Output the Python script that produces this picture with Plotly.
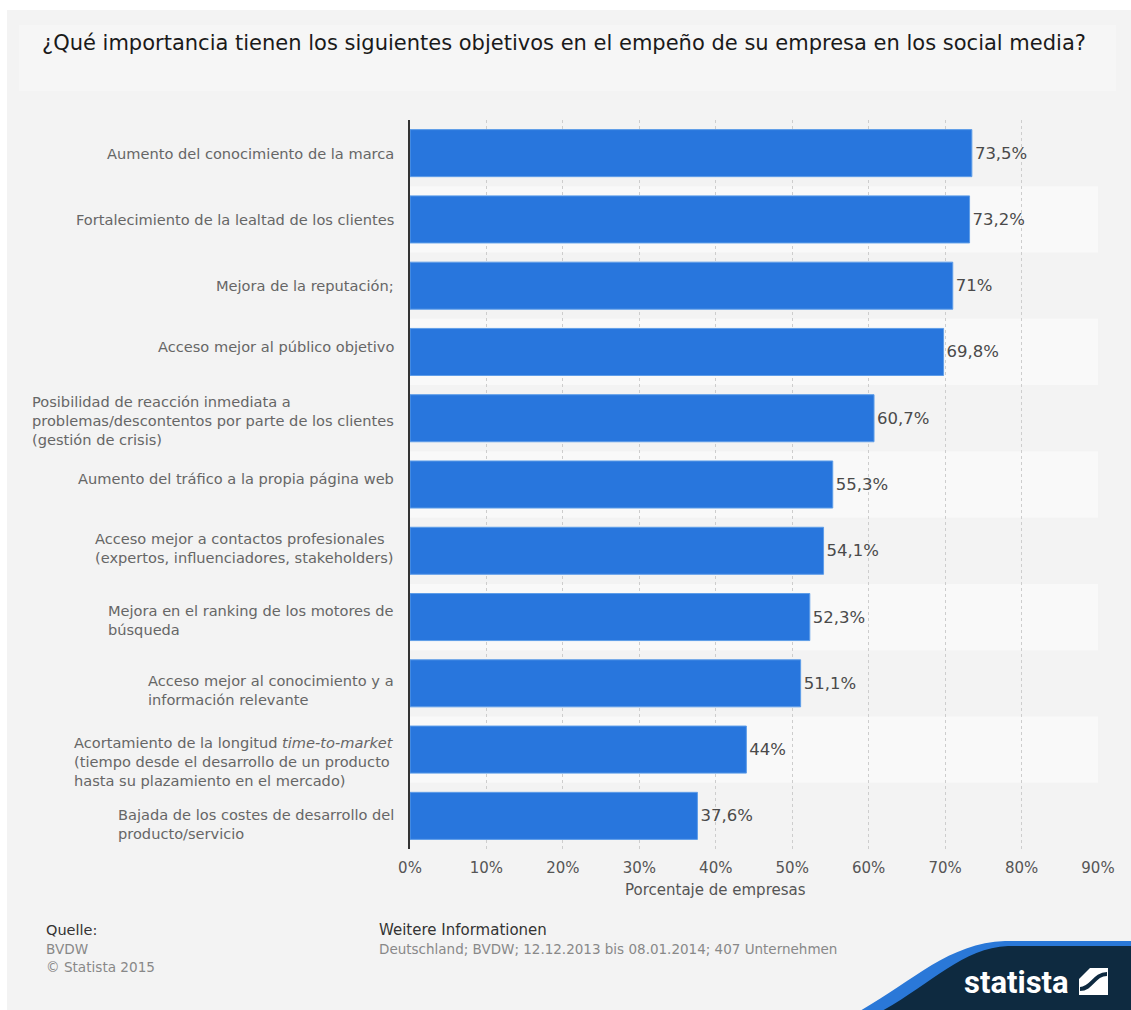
import plotly.graph_objects as go

# Survey answers (share of companies, %)
categories = [
    "Aumento del conocimiento de la marca",
    "Fortalecimiento de la lealtad de los clientes",
    "Mejora de la reputación;",
    "Acceso mejor al público objetivo",
    "Posibilidad de reacción inmediata a<br>problemas/descontentos por parte de los clientes<br>(gestión de crisis)",
    "Aumento del tráfico a la propia página web",
    "Acceso mejor a contactos profesionales<br>(expertos, influenciadores, stakeholders)",
    "Mejora en el ranking de los motores de<br>búsqueda",
    "Acceso mejor al conocimiento y a<br>información relevante",
    "Acortamiento de la longitud <i>time-to-market</i><br>(tiempo desde el desarrollo de un producto<br>hasta su plazamiento en el mercado)",
    "Bajada de los costes de desarrollo del<br>producto/servicio",
]
values = [73.5, 73.2, 71.0, 69.8, 60.7, 55.3, 54.1, 52.3, 51.1, 44.0, 37.6]
x_ticks = [0, 10, 20, 30, 40, 50, 60, 70, 80, 90]

title_text = "¿Qué importancia tienen los siguientes objetivos en el empeño de su empresa en los social media?"
axis_title = "Porcentaje de empresas"
source_head = "Quelle:"
source_lines = ["BVDW", "© Statista 2015"]
info_head = "Weitere Informationen"
info_line = "Deutschland; BVDW; 12.12.2013 bis 08.01.2014; 407 Unternehmen"

# label vertical nudges in pixels (positive = down)
label_nudge = [0, 0, 0, -5, 2, -6, -3, 3, 7, 12, 8]

value_labels = [("%g" % v).replace(".", ",") + "%" for v in values]

FIG_W, FIG_H = 1131, 1010
L, R, T, B = 410, 1098, 120, 849


def fx(px):
    return (px - L) / (R - L)


def fy(py):
    return (B - py) / (B - T)


FONT = "DejaVu Sans"

fig = go.Figure(
    go.Bar(
        x=values,
        y=categories,
        orientation="h",
        marker=dict(color="#2876dd", line=dict(color="#5e9de8", width=1)),
        text=value_labels,
        textposition="outside",
        textfont=dict(family=FONT, size=16.5, color="#4a4a4a"),
        constraintext="none",
        cliponaxis=False,
        hoverinfo="skip",
    )
)

shapes = []
# white frame strips at top and left edge
shapes.append(dict(type="rect", xref="paper", yref="paper", x0=fx(0), x1=fx(FIG_W),
                   y0=fy(10), y1=fy(0), fillcolor="white", line=dict(width=0), layer="below"))
shapes.append(dict(type="rect", xref="paper", yref="paper", x0=fx(0), x1=fx(7),
                   y0=fy(FIG_H), y1=fy(0), fillcolor="white", line=dict(width=0), layer="below"))
# title panel
shapes.append(dict(type="rect", xref="paper", yref="paper", x0=fx(19), x1=fx(1116),
                   y0=fy(91), y1=fy(25), fillcolor="#f6f6f6", line=dict(width=0), layer="below"))
# alternating row bands
for i in range(len(categories)):
    if i % 2 == 1:
        shapes.append(dict(type="rect", xref="paper", yref="y", x0=0, x1=1,
                           y0=i - 0.5, y1=i + 0.5, fillcolor="#f9f9f9",
                           line=dict(width=0), layer="below"))


def path(points_cmds):
    out = []
    for cmd, pts in points_cmds:
        coords = " ".join("%.5f,%.5f" % (fx(px), fy(py)) for px, py in pts)
        out.append(cmd + " " + coords if coords else cmd)
    return " ".join(out)


# logo swoosh
blue = path([("M", [(858, 1012)]), ("C", [(912, 982), (948, 943), (1005, 941)]),
             ("L", [(1133, 941)]), ("L", [(1133, 1012)]), ("Z", [])])
navy = path([("M", [(880, 1012)]), ("C", [(930, 985), (962, 948), (1008, 946)]),
             ("L", [(1133, 946)]), ("L", [(1133, 1012)]), ("Z", [])])
shapes.append(dict(type="path", xref="paper", yref="paper", path=blue,
                   fillcolor="#2a78d8", line=dict(width=0), layer="above"))
shapes.append(dict(type="path", xref="paper", yref="paper", path=navy,
                   fillcolor="#0e2a40", line=dict(width=0), layer="above"))
# logo icon
shapes.append(dict(type="rect", xref="paper", yref="paper", x0=fx(1079), x1=fx(1108),
                   y0=fy(995), y1=fy(968), fillcolor="white", line=dict(width=0), layer="above"))
icon = path([("M", [(1079, 968)]), ("L", [(1090, 968)]), ("L", [(1079, 979)]), ("Z", [])])
shapes.append(dict(type="path", xref="paper", yref="paper", path=icon,
                   fillcolor="#0e2a40", line=dict(width=0), layer="above"))
icon2 = path([("M", [(1080, 989)]), ("C", [(1092, 989), (1094, 974), (1107, 974)])])
shapes.append(dict(type="path", xref="paper", yref="paper", path=icon2,
                   line=dict(color="#0e2a40", width=4), layer="above"))

annotations = []
# title
annotations.append(dict(text=title_text, xref="paper", yref="paper", x=fx(40), y=fy(43),
                        xanchor="left", yanchor="middle", showarrow=False,
                        font=dict(family=FONT, size=21, color="#1a1a1a")))
# category labels, left-aligned blocks ending near the axis
for cat, dy in zip(categories, label_nudge):
    annotations.append(dict(text=cat, xref="paper", yref="y", x=fx(396), y=cat,
                            xanchor="right", yanchor="middle", align="left", showarrow=False,
                            yshift=-dy,
                            font=dict(family=FONT, size=14.6, color="#666666")))
# axis title
annotations.append(dict(text=axis_title, xref="paper", yref="paper", x=fx(715), y=fy(890),
                        xanchor="center", yanchor="middle", showarrow=False,
                        font=dict(family=FONT, size=15, color="#555555")))
# footer
annotations.append(dict(text=source_head, xref="paper", yref="paper", x=fx(44), y=fy(930),
                        xanchor="left", yanchor="middle", showarrow=False,
                        font=dict(family=FONT, size=14.5, color="#333333")))
for k, line in enumerate(source_lines):
    annotations.append(dict(text=line, xref="paper", yref="paper", x=fx(44), y=fy(949 + 18 * k),
                            xanchor="left", yanchor="middle", showarrow=False,
                            font=dict(family=FONT, size=13.6, color="#888888")))
annotations.append(dict(text=info_head, xref="paper", yref="paper", x=fx(377), y=fy(930),
                        xanchor="left", yanchor="middle", showarrow=False,
                        font=dict(family=FONT, size=15, color="#333333")))
annotations.append(dict(text=info_line, xref="paper", yref="paper", x=fx(377), y=fy(949),
                        xanchor="left", yanchor="middle", showarrow=False,
                        font=dict(family=FONT, size=13.5, color="#888888")))
# logo wordmark
annotations.append(dict(text="<b>statista</b>", xref="paper", yref="paper", x=fx(1071), y=fy(982),
                        xanchor="right", yanchor="middle", showarrow=False,
                        font=dict(family="Roboto", size=31, color="white")))

fig.update_layout(
    width=FIG_W,
    height=FIG_H,
    margin=dict(l=L, r=FIG_W - R, t=T, b=FIG_H - B, pad=0),
    paper_bgcolor="#f3f3f3",
    plot_bgcolor="#f3f3f3",
    bargap=0.29,
    showlegend=False,
    shapes=shapes,
    annotations=annotations,
    xaxis=dict(
        range=[0, 90],
        tickvals=x_ticks,
        ticktext=["%d%%" % t for t in x_ticks],
        showgrid=True,
        gridcolor="#cdcdcd",
        gridwidth=1,
        griddash="dot",
        zeroline=False,
        showline=False,
        ticks="outside",
        ticklen=5,
        tickcolor="rgba(0,0,0,0)",
        tickfont=dict(family=FONT, size=15, color="#555555"),
        fixedrange=True,
    ),
    yaxis=dict(
        categoryorder="array",
        categoryarray=categories,
        autorange="reversed",
        showticklabels=False,
        showgrid=False,
        zeroline=False,
        showline=True,
        linecolor="#333333",
        linewidth=2,
        ticks="",
        fixedrange=True,
    ),
)

fig.write_html("out.html")
